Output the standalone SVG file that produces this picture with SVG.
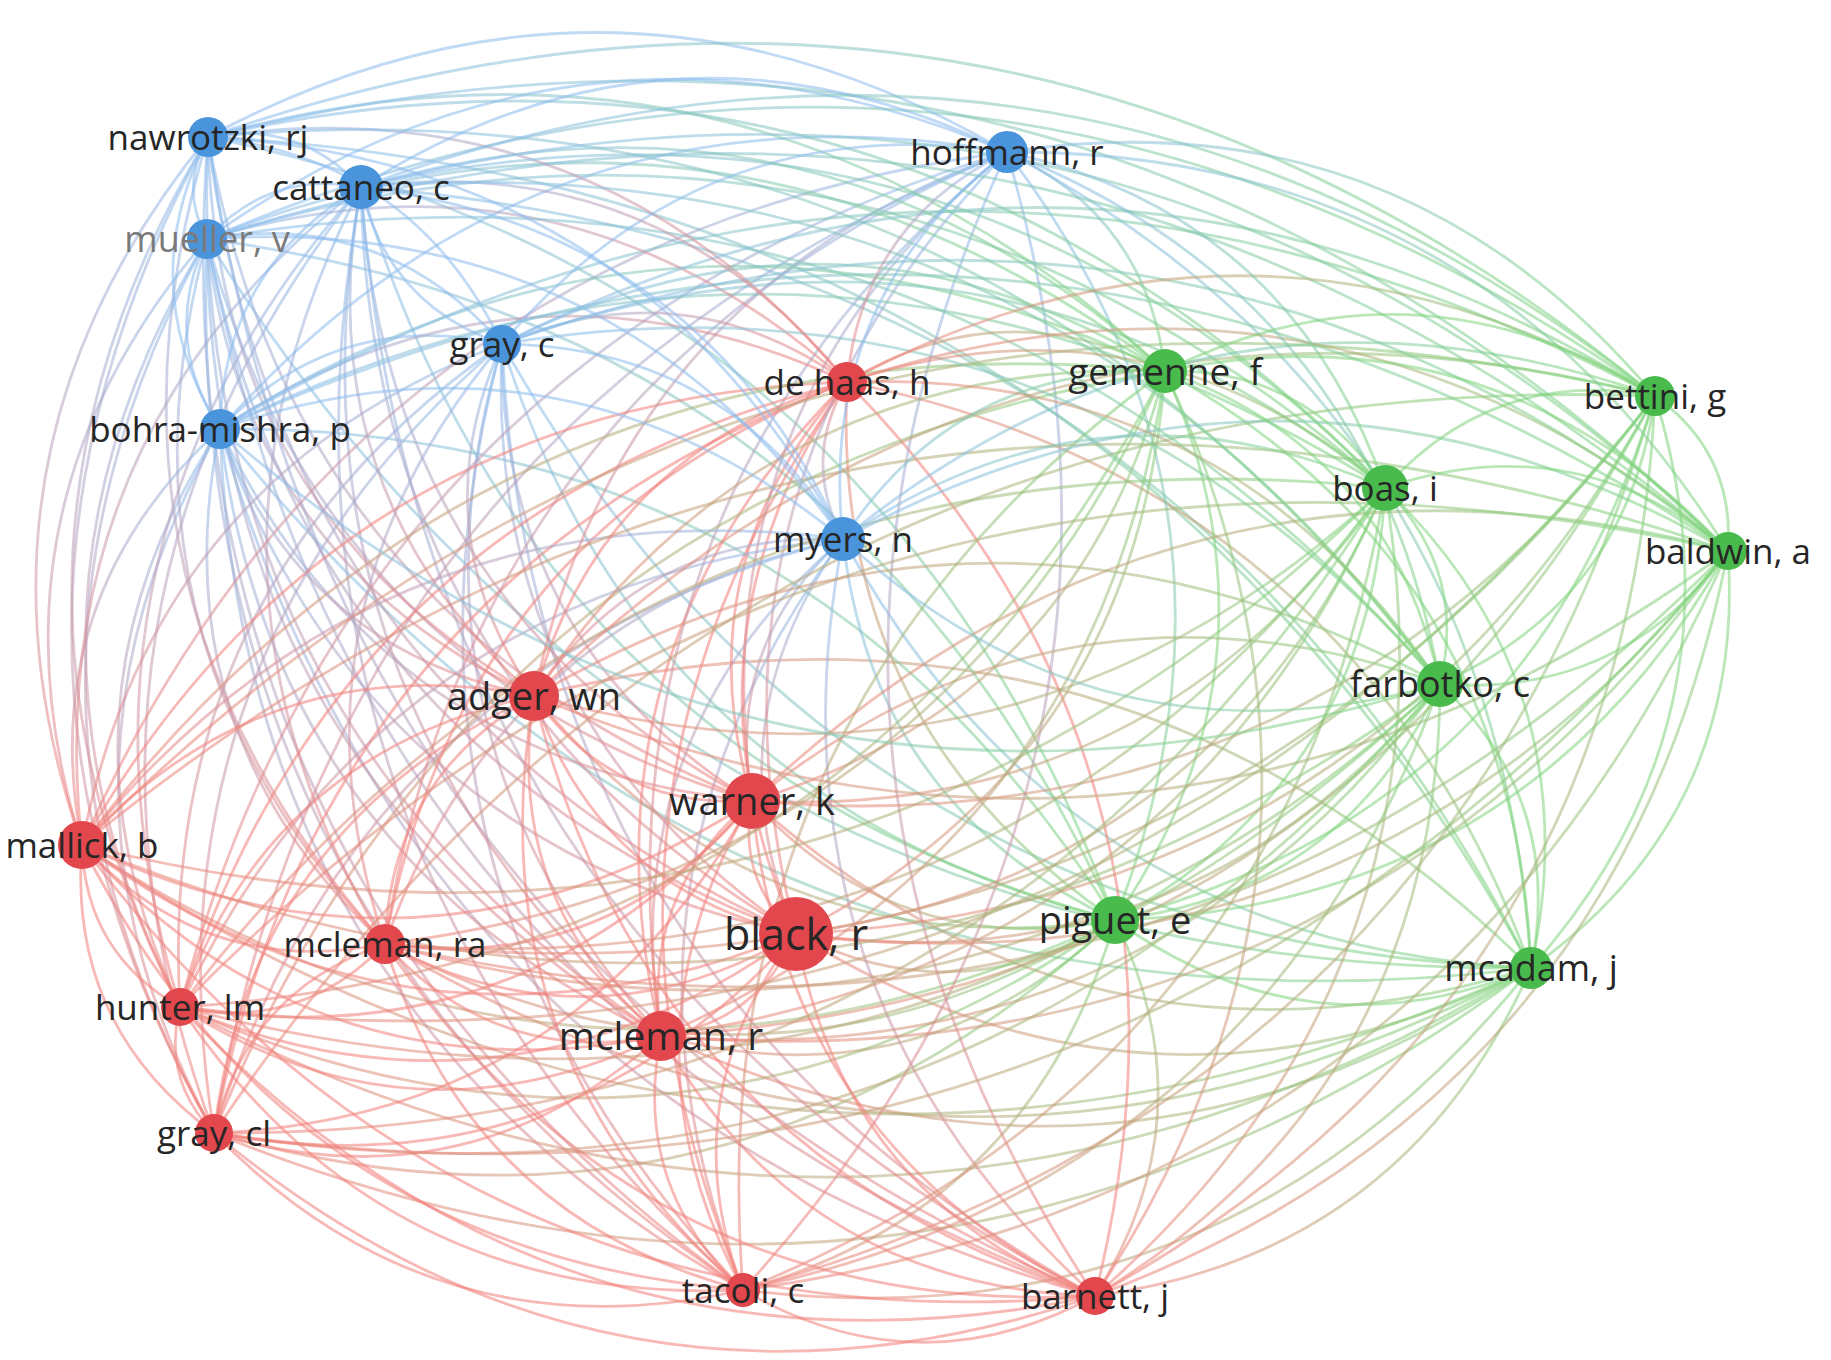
<svg xmlns="http://www.w3.org/2000/svg" width="1831" height="1360" viewBox="0 0 1831 1360">
<defs>
<linearGradient id="grb" x1="0" y1="0" x2="1" y2="0"><stop offset="0" stop-color="#f2807a"/><stop offset="1" stop-color="#8cbcee"/></linearGradient>
<linearGradient id="gbr" x1="0" y1="0" x2="1" y2="0"><stop offset="0" stop-color="#8cbcee"/><stop offset="1" stop-color="#f2807a"/></linearGradient>
<linearGradient id="grg" x1="0" y1="0" x2="1" y2="0"><stop offset="0" stop-color="#f2807a"/><stop offset="1" stop-color="#7fd47c"/></linearGradient>
<linearGradient id="ggr" x1="0" y1="0" x2="1" y2="0"><stop offset="0" stop-color="#7fd47c"/><stop offset="1" stop-color="#f2807a"/></linearGradient>
<linearGradient id="gbg" x1="0" y1="0" x2="1" y2="0"><stop offset="0" stop-color="#8cbcee"/><stop offset="1" stop-color="#7fd47c"/></linearGradient>
<linearGradient id="ggb" x1="0" y1="0" x2="1" y2="0"><stop offset="0" stop-color="#7fd47c"/><stop offset="1" stop-color="#8cbcee"/></linearGradient>
</defs>
<style>
.e path{fill:none;stroke-width:2.8;stroke-opacity:.55;vector-effect:non-scaling-stroke}
.rr{stroke:#f2807a}.bb{stroke:#8cbcee}.gg{stroke:#7fd47c}
.rb{stroke:url(#grb)}.br{stroke:url(#gbr)}.rg{stroke:url(#grg)}.gr{stroke:url(#ggr)}.bg{stroke:url(#gbg)}.gb{stroke:url(#ggb)}
.r circle{fill:#e2474d}.b circle{fill:#4a94dc}.g circle{fill:#48bb4c}
text{font-family:"Open Sans","DejaVu Sans",sans-serif;font-size:35px;fill:#262626;text-anchor:middle}
</style>
<rect width="1831" height="1360" fill="#ffffff"/>
<g id="connectors" class="e">
<path d="M0 0Q.5-.28 1 0" class="gg" transform="matrix(-416 -48 48 -416 1531 968)"/>
<path d="M0 0Q.5-.28 1 0" class="gr" transform="matrix(-436 328 -328 -436 1531 968)"/>
<path d="M0 0Q.5-.28 1 0" class="gr" transform="matrix(-788 322 -322 -788 1531 968)"/>
<path d="M0 0Q.5-.28 1 0" class="gr" transform="matrix(-735 -34 34 -735 1531 968)"/>
<path d="M0 0Q.5-.28 1 0" class="gr" transform="matrix(-870 68 -68 -870 1531 968)"/>
<path d="M0 0Q.5-.28 1 0" class="gr" transform="matrix(-779 -167 167 -779 1531 968)"/>
<path d="M0 0Q.5-.28 1 0" class="gr" transform="matrix(-1317 165 -165 -1317 1531 968)"/>
<path d="M0 0Q.5-.28 1 0" class="gr" transform="matrix(-1146 -24 24 -1146 1531 968)"/>
<path d="M0 0Q.5-.28 1 0" class="gr" transform="matrix(-1351 39 -39 -1351 1531 968)"/>
<path d="M0 0Q.5-.28 1 0" class="gr" transform="matrix(-1449 -123 123 -1449 1531 968)"/>
<path d="M0 0Q.5-.28 1 0" class="rg" transform="matrix(997 272 -272 997 534 696)"/>
<path d="M0 0Q.5-.28 1 0" class="gb" transform="matrix(-1311 -539 539 -1311 1531 968)"/>
<path d="M0 0Q.5-.28 1 0" class="gb" transform="matrix(-1324 -729 729 -1324 1531 968)"/>
<path d="M0 0Q.5-.28 1 0" class="bg" transform="matrix(1323 831 -831 1323 208 137)"/>
<path d="M0 0Q.5-.28 1 0" class="gb" transform="matrix(-1029 -624 624 -1029 1531 968)"/>
<path d="M0 0Q.5-.28 1 0" class="bg" transform="matrix(1170 781 -781 1170 361 187)"/>
<path d="M0 0Q.5-.28 1 0" class="gb" transform="matrix(-688 -429 429 -688 1531 968)"/>
<path d="M0 0Q.5-.28 1 0" class="rg" transform="matrix(684 586 -586 684 847 382)"/>
<path d="M0 0Q.5-.28 1 0" class="bg" transform="matrix(524 816 -816 524 1007 152)"/>
<path d="M0 0Q.5-.28 1 0" class="gg" transform="matrix(366 597 -597 366 1165 371)"/>
<path d="M0 0Q.5-.28 1 0" class="gg" transform="matrix(146 480 -480 146 1385 488)"/>
<path d="M0 0Q.5-.28 1 0" class="gg" transform="matrix(-124 572 -572 -124 1655 396)"/>
<path d="M0 0Q.5-.28 1 0" class="gg" transform="matrix(-197 417 -417 -197 1728 551)"/>
<path d="M0 0Q.5-.28 1 0" class="gg" transform="matrix(91 284 -284 91 1440 684)"/>
<path d="M0 0Q.5-.28 1 0" class="gr" transform="matrix(-20 376 -376 -20 1115 920)"/>
<path d="M0 0Q.5-.28 1 0" class="gr" transform="matrix(-372 370 -370 -372 1115 920)"/>
<path d="M0 0Q.5-.28 1 0" class="gr" transform="matrix(-319 14 -14 -319 1115 920)"/>
<path d="M0 0Q.5-.28 1 0" class="gr" transform="matrix(-454 116 -116 -454 1115 920)"/>
<path d="M0 0Q.5-.28 1 0" class="gr" transform="matrix(-363 -119 119 -363 1115 920)"/>
<path d="M0 0Q.5-.28 1 0" class="gr" transform="matrix(-901 213 -213 -901 1115 920)"/>
<path d="M0 0Q.5-.28 1 0" class="gr" transform="matrix(-730 24 -24 -730 1115 920)"/>
<path d="M0 0Q.5-.28 1 0" class="gr" transform="matrix(-935 87 -87 -935 1115 920)"/>
<path d="M0 0Q.5-.28 1 0" class="gr" transform="matrix(-1033 -75 75 -1033 1115 920)"/>
<path d="M0 0Q.5-.28 1 0" class="gr" transform="matrix(-581 -224 224 -581 1115 920)"/>
<path d="M0 0Q.5-.28 1 0" class="bg" transform="matrix(895 491 -491 895 220 429)"/>
<path d="M0 0Q.5-.28 1 0" class="bg" transform="matrix(908 681 -681 908 207 239)"/>
<path d="M0 0Q.5-.28 1 0" class="bg" transform="matrix(907 783 -783 907 208 137)"/>
<path d="M0 0Q.5-.28 1 0" class="gb" transform="matrix(-613 -576 576 -613 1115 920)"/>
<path d="M0 0Q.5-.28 1 0" class="gb" transform="matrix(-754 -733 733 -754 1115 920)"/>
<path d="M0 0Q.5-.28 1 0" class="gb" transform="matrix(-272 -381 381 -272 1115 920)"/>
<path d="M0 0Q.5-.28 1 0" class="gr" transform="matrix(-268 -538 538 -268 1115 920)"/>
<path d="M0 0Q.5-.28 1 0" class="bg" transform="matrix(108 768 -768 108 1007 152)"/>
<path d="M0 0Q.5-.28 1 0" class="gg" transform="matrix(-50 549 -549 -50 1165 371)"/>
<path d="M0 0Q.5-.28 1 0" class="gg" transform="matrix(-270 432 -432 -270 1385 488)"/>
<path d="M0 0Q.5-.28 1 0" class="gg" transform="matrix(-540 524 -524 -540 1655 396)"/>
<path d="M0 0Q.5-.28 1 0" class="gg" transform="matrix(-613 369 -369 -613 1728 551)"/>
<path d="M0 0Q.5-.28 1 0" class="gg" transform="matrix(-325 236 -236 -325 1440 684)"/>
<path d="M0 0Q.5-.28 1 0" class="rr" transform="matrix(-352 -6 6 -352 1095 1296)"/>
<path d="M0 0Q.5-.28 1 0" class="rr" transform="matrix(-299 -362 362 -299 1095 1296)"/>
<path d="M0 0Q.5-.28 1 0" class="rr" transform="matrix(-434 -260 260 -434 1095 1296)"/>
<path d="M0 0Q.5-.28 1 0" class="rr" transform="matrix(-343 -495 495 -343 1095 1296)"/>
<path d="M0 0Q.5-.28 1 0" class="rr" transform="matrix(-881 -163 163 -881 1095 1296)"/>
<path d="M0 0Q.5-.28 1 0" class="rr" transform="matrix(-710 -352 352 -710 1095 1296)"/>
<path d="M0 0Q.5-.28 1 0" class="rr" transform="matrix(-915 -289 289 -915 1095 1296)"/>
<path d="M0 0Q.5-.28 1 0" class="rr" transform="matrix(-1013 -451 451 -1013 1095 1296)"/>
<path d="M0 0Q.5-.28 1 0" class="rr" transform="matrix(-561 -600 600 -561 1095 1296)"/>
<path d="M0 0Q.5-.28 1 0" class="rb" transform="matrix(-875 -867 867 -875 1095 1296)"/>
<path d="M0 0Q.5-.28 1 0" class="rb" transform="matrix(-888 -1057 1057 -888 1095 1296)"/>
<path d="M0 0Q.5-.28 1 0" class="rb" transform="matrix(-887 -1159 1159 -887 1095 1296)"/>
<path d="M0 0Q.5-.28 1 0" class="rb" transform="matrix(-593 -952 952 -593 1095 1296)"/>
<path d="M0 0Q.5-.28 1 0" class="rb" transform="matrix(-734 -1109 1109 -734 1095 1296)"/>
<path d="M0 0Q.5-.28 1 0" class="rb" transform="matrix(-252 -757 757 -252 1095 1296)"/>
<path d="M0 0Q.5-.28 1 0" class="rr" transform="matrix(248 914 -914 248 847 382)"/>
<path d="M0 0Q.5-.28 1 0" class="rb" transform="matrix(-88 -1144 1144 -88 1095 1296)"/>
<path d="M0 0Q.5-.28 1 0" class="gr" transform="matrix(-70 925 -925 -70 1165 371)"/>
<path d="M0 0Q.5-.28 1 0" class="gr" transform="matrix(-290 808 -808 -290 1385 488)"/>
<path d="M0 0Q.5-.28 1 0" class="gr" transform="matrix(-560 900 -900 -560 1655 396)"/>
<path d="M0 0Q.5-.28 1 0" class="gr" transform="matrix(-633 745 -745 -633 1728 551)"/>
<path d="M0 0Q.5-.28 1 0" class="gr" transform="matrix(-345 612 -612 -345 1440 684)"/>
<path d="M0 0Q.5-.28 1 0" class="rr" transform="matrix(53 -356 356 53 743 1290)"/>
<path d="M0 0Q.5-.28 1 0" class="rr" transform="matrix(-82 -254 254 -82 743 1290)"/>
<path d="M0 0Q.5-.28 1 0" class="rr" transform="matrix(9 -489 489 9 743 1290)"/>
<path d="M0 0Q.5-.28 1 0" class="rr" transform="matrix(-529 -157 157 -529 743 1290)"/>
<path d="M0 0Q.5-.28 1 0" class="rr" transform="matrix(-358 -346 346 -358 743 1290)"/>
<path d="M0 0Q.5-.28 1 0" class="rr" transform="matrix(-563 -283 283 -563 743 1290)"/>
<path d="M0 0Q.5-.28 1 0" class="rr" transform="matrix(-661 -445 445 -661 743 1290)"/>
<path d="M0 0Q.5-.28 1 0" class="rr" transform="matrix(-209 -594 594 -209 743 1290)"/>
<path d="M0 0Q.5-.28 1 0" class="rb" transform="matrix(-523 -861 861 -523 743 1290)"/>
<path d="M0 0Q.5-.28 1 0" class="rb" transform="matrix(-536 -1051 1051 -536 743 1290)"/>
<path d="M0 0Q.5-.28 1 0" class="rb" transform="matrix(-535 -1153 1153 -535 743 1290)"/>
<path d="M0 0Q.5-.28 1 0" class="rb" transform="matrix(-241 -946 946 -241 743 1290)"/>
<path d="M0 0Q.5-.28 1 0" class="rb" transform="matrix(-382 -1103 1103 -382 743 1290)"/>
<path d="M0 0Q.5-.28 1 0" class="rb" transform="matrix(100 -751 751 100 743 1290)"/>
<path d="M0 0Q.5-.28 1 0" class="rr" transform="matrix(104 -908 908 104 743 1290)"/>
<path d="M0 0Q.5-.28 1 0" class="br" transform="matrix(-264 1138 -1138 -264 1007 152)"/>
<path d="M0 0Q.5-.28 1 0" class="rg" transform="matrix(422 -919 919 422 743 1290)"/>
<path d="M0 0Q.5-.28 1 0" class="gr" transform="matrix(-642 802 -802 -642 1385 488)"/>
<path d="M0 0Q.5-.28 1 0" class="gr" transform="matrix(-912 894 -894 -912 1655 396)"/>
<path d="M0 0Q.5-.28 1 0" class="gr" transform="matrix(-985 739 -739 -985 1728 551)"/>
<path d="M0 0Q.5-.28 1 0" class="gr" transform="matrix(-697 606 -606 -697 1440 684)"/>
<path d="M0 0Q.5-.28 1 0" class="rr" transform="matrix(-135 102 -102 -135 796 934)"/>
<path d="M0 0Q.5-.28 1 0" class="rr" transform="matrix(-44 -133 133 -44 796 934)"/>
<path d="M0 0Q.5-.28 1 0" class="rr" transform="matrix(-582 199 -199 -582 796 934)"/>
<path d="M0 0Q.5-.28 1 0" class="rr" transform="matrix(-411 10 -10 -411 796 934)"/>
<path d="M0 0Q.5-.28 1 0" class="rr" transform="matrix(-616 73 -73 -616 796 934)"/>
<path d="M0 0Q.5-.28 1 0" class="rr" transform="matrix(-714 -89 89 -714 796 934)"/>
<path d="M0 0Q.5-.28 1 0" class="rr" transform="matrix(-262 -238 238 -262 796 934)"/>
<path d="M0 0Q.5-.28 1 0" class="rb" transform="matrix(-576 -505 505 -576 796 934)"/>
<path d="M0 0Q.5-.28 1 0" class="rb" transform="matrix(-589 -695 695 -589 796 934)"/>
<path d="M0 0Q.5-.28 1 0" class="rb" transform="matrix(-588 -797 797 -588 796 934)"/>
<path d="M0 0Q.5-.28 1 0" class="rb" transform="matrix(-294 -590 590 -294 796 934)"/>
<path d="M0 0Q.5-.28 1 0" class="rb" transform="matrix(-435 -747 747 -435 796 934)"/>
<path d="M0 0Q.5-.28 1 0" class="rb" transform="matrix(47 -395 395 47 796 934)"/>
<path d="M0 0Q.5-.28 1 0" class="rr" transform="matrix(51 -552 552 51 796 934)"/>
<path d="M0 0Q.5-.28 1 0" class="rb" transform="matrix(211 -782 782 211 796 934)"/>
<path d="M0 0Q.5-.28 1 0" class="gr" transform="matrix(-369 563 -563 -369 1165 371)"/>
<path d="M0 0Q.5-.28 1 0" class="gr" transform="matrix(-589 446 -446 -589 1385 488)"/>
<path d="M0 0Q.5-.28 1 0" class="gr" transform="matrix(-859 538 -538 -859 1655 396)"/>
<path d="M0 0Q.5-.28 1 0" class="gr" transform="matrix(-932 383 -383 -932 1728 551)"/>
<path d="M0 0Q.5-.28 1 0" class="gr" transform="matrix(-644 250 -250 -644 1440 684)"/>
<path d="M0 0Q.5-.28 1 0" class="rr" transform="matrix(91 -235 235 91 661 1036)"/>
<path d="M0 0Q.5-.28 1 0" class="rr" transform="matrix(-447 97 -97 -447 661 1036)"/>
<path d="M0 0Q.5-.28 1 0" class="rr" transform="matrix(-276 -92 92 -276 661 1036)"/>
<path d="M0 0Q.5-.28 1 0" class="rr" transform="matrix(-481 -29 29 -481 661 1036)"/>
<path d="M0 0Q.5-.28 1 0" class="rr" transform="matrix(-579 -191 191 -579 661 1036)"/>
<path d="M0 0Q.5-.28 1 0" class="rr" transform="matrix(-127 -340 340 -127 661 1036)"/>
<path d="M0 0Q.5-.28 1 0" class="rb" transform="matrix(-441 -607 607 -441 661 1036)"/>
<path d="M0 0Q.5-.28 1 0" class="rb" transform="matrix(-454 -797 797 -454 661 1036)"/>
<path d="M0 0Q.5-.28 1 0" class="rb" transform="matrix(-453 -899 899 -453 661 1036)"/>
<path d="M0 0Q.5-.28 1 0" class="rb" transform="matrix(-159 -692 692 -159 661 1036)"/>
<path d="M0 0Q.5-.28 1 0" class="rb" transform="matrix(-300 -849 849 -300 661 1036)"/>
<path d="M0 0Q.5-.28 1 0" class="rb" transform="matrix(182 -497 497 182 661 1036)"/>
<path d="M0 0Q.5-.28 1 0" class="rr" transform="matrix(186 -654 654 186 661 1036)"/>
<path d="M0 0Q.5-.28 1 0" class="rb" transform="matrix(346 -884 884 346 661 1036)"/>
<path d="M0 0Q.5-.28 1 0" class="gr" transform="matrix(-504 665 -665 -504 1165 371)"/>
<path d="M0 0Q.5-.28 1 0" class="gr" transform="matrix(-724 548 -548 -724 1385 488)"/>
<path d="M0 0Q.5-.28 1 0" class="gr" transform="matrix(-994 640 -640 -994 1655 396)"/>
<path d="M0 0Q.5-.28 1 0" class="gr" transform="matrix(-1067 485 -485 -1067 1728 551)"/>
<path d="M0 0Q.5-.28 1 0" class="gr" transform="matrix(-779 352 -352 -779 1440 684)"/>
<path d="M0 0Q.5-.28 1 0" class="rr" transform="matrix(-538 332 -332 -538 752 801)"/>
<path d="M0 0Q.5-.28 1 0" class="rr" transform="matrix(-367 143 -143 -367 752 801)"/>
<path d="M0 0Q.5-.28 1 0" class="rr" transform="matrix(-572 206 -206 -572 752 801)"/>
<path d="M0 0Q.5-.28 1 0" class="rr" transform="matrix(-670 44 -44 -670 752 801)"/>
<path d="M0 0Q.5-.28 1 0" class="rr" transform="matrix(-218 -105 105 -218 752 801)"/>
<path d="M0 0Q.5-.28 1 0" class="rb" transform="matrix(-532 -372 372 -532 752 801)"/>
<path d="M0 0Q.5-.28 1 0" class="rb" transform="matrix(-545 -562 562 -545 752 801)"/>
<path d="M0 0Q.5-.28 1 0" class="rb" transform="matrix(-544 -664 664 -544 752 801)"/>
<path d="M0 0Q.5-.28 1 0" class="rb" transform="matrix(-250 -457 457 -250 752 801)"/>
<path d="M0 0Q.5-.28 1 0" class="rb" transform="matrix(-391 -614 614 -391 752 801)"/>
<path d="M0 0Q.5-.28 1 0" class="rb" transform="matrix(91 -262 262 91 752 801)"/>
<path d="M0 0Q.5-.28 1 0" class="rr" transform="matrix(95 -419 419 95 752 801)"/>
<path d="M0 0Q.5-.28 1 0" class="rb" transform="matrix(255 -649 649 255 752 801)"/>
<path d="M0 0Q.5-.28 1 0" class="gr" transform="matrix(-413 430 -430 -413 1165 371)"/>
<path d="M0 0Q.5-.28 1 0" class="gr" transform="matrix(-633 313 -313 -633 1385 488)"/>
<path d="M0 0Q.5-.28 1 0" class="gr" transform="matrix(-903 405 -405 -903 1655 396)"/>
<path d="M0 0Q.5-.28 1 0" class="rg" transform="matrix(976 -250 250 976 752 801)"/>
<path d="M0 0Q.5-.28 1 0" class="rg" transform="matrix(688 -117 117 688 752 801)"/>
<path d="M0 0Q.5-.28 1 0" class="rr" transform="matrix(171 -189 189 171 214 1133)"/>
<path d="M0 0Q.5-.28 1 0" class="rr" transform="matrix(-34 -126 126 -34 214 1133)"/>
<path d="M0 0Q.5-.28 1 0" class="rr" transform="matrix(-132 -288 288 -132 214 1133)"/>
<path d="M0 0Q.5-.28 1 0" class="rr" transform="matrix(320 -437 437 320 214 1133)"/>
<path d="M0 0Q.5-.28 1 0" class="rb" transform="matrix(6 -704 704 6 214 1133)"/>
<path d="M0 0Q.5-.28 1 0" class="rb" transform="matrix(-7 -894 894 -7 214 1133)"/>
<path d="M0 0Q.5-.28 1 0" class="rb" transform="matrix(-6 -996 996 -6 214 1133)"/>
<path d="M0 0Q.5-.28 1 0" class="rb" transform="matrix(288 -789 789 288 214 1133)"/>
<path d="M0 0Q.5-.28 1 0" class="rb" transform="matrix(147 -946 946 147 214 1133)"/>
<path d="M0 0Q.5-.28 1 0" class="rb" transform="matrix(629 -594 594 629 214 1133)"/>
<path d="M0 0Q.5-.28 1 0" class="rr" transform="matrix(633 -751 751 633 214 1133)"/>
<path d="M0 0Q.5-.28 1 0" class="rb" transform="matrix(793 -981 981 793 214 1133)"/>
<path d="M0 0Q.5-.28 1 0" class="rg" transform="matrix(951 -762 762 951 214 1133)"/>
<path d="M0 0Q.5-.28 1 0" class="gr" transform="matrix(-1171 645 -645 -1171 1385 488)"/>
<path d="M0 0Q.5-.28 1 0" class="rg" transform="matrix(1441 -737 737 1441 214 1133)"/>
<path d="M0 0Q.5-.28 1 0" class="gr" transform="matrix(-1514 582 -582 -1514 1728 551)"/>
<path d="M0 0Q.5-.28 1 0" class="gr" transform="matrix(-1226 449 -449 -1226 1440 684)"/>
<path d="M0 0Q.5-.28 1 0" class="rr" transform="matrix(-205 63 -63 -205 385 944)"/>
<path d="M0 0Q.5-.28 1 0" class="rr" transform="matrix(-303 -99 99 -303 385 944)"/>
<path d="M0 0Q.5-.28 1 0" class="rr" transform="matrix(149 -248 248 149 385 944)"/>
<path d="M0 0Q.5-.28 1 0" class="rb" transform="matrix(-165 -515 515 -165 385 944)"/>
<path d="M0 0Q.5-.28 1 0" class="rb" transform="matrix(-178 -705 705 -178 385 944)"/>
<path d="M0 0Q.5-.28 1 0" class="rb" transform="matrix(-177 -807 807 -177 385 944)"/>
<path d="M0 0Q.5-.28 1 0" class="rb" transform="matrix(117 -600 600 117 385 944)"/>
<path d="M0 0Q.5-.28 1 0" class="rb" transform="matrix(-24 -757 757 -24 385 944)"/>
<path d="M0 0Q.5-.28 1 0" class="rb" transform="matrix(458 -405 405 458 385 944)"/>
<path d="M0 0Q.5-.28 1 0" class="rr" transform="matrix(462 -562 562 462 385 944)"/>
<path d="M0 0Q.5-.28 1 0" class="rb" transform="matrix(622 -792 792 622 385 944)"/>
<path d="M0 0Q.5-.28 1 0" class="gr" transform="matrix(-780 573 -573 -780 1165 371)"/>
<path d="M0 0Q.5-.28 1 0" class="gr" transform="matrix(-1000 456 -456 -1000 1385 488)"/>
<path d="M0 0Q.5-.28 1 0" class="gr" transform="matrix(-1270 548 -548 -1270 1655 396)"/>
<path d="M0 0Q.5-.28 1 0" class="gr" transform="matrix(-1343 393 -393 -1343 1728 551)"/>
<path d="M0 0Q.5-.28 1 0" class="gr" transform="matrix(-1055 260 -260 -1055 1440 684)"/>
<path d="M0 0Q.5-.28 1 0" class="rr" transform="matrix(-98 -162 162 -98 180 1007)"/>
<path d="M0 0Q.5-.28 1 0" class="rr" transform="matrix(354 -311 311 354 180 1007)"/>
<path d="M0 0Q.5-.28 1 0" class="rb" transform="matrix(40 -578 578 40 180 1007)"/>
<path d="M0 0Q.5-.28 1 0" class="rb" transform="matrix(27 -768 768 27 180 1007)"/>
<path d="M0 0Q.5-.28 1 0" class="rb" transform="matrix(28 -870 870 28 180 1007)"/>
<path d="M0 0Q.5-.28 1 0" class="rb" transform="matrix(322 -663 663 322 180 1007)"/>
<path d="M0 0Q.5-.28 1 0" class="rb" transform="matrix(181 -820 820 181 180 1007)"/>
<path d="M0 0Q.5-.28 1 0" class="rb" transform="matrix(663 -468 468 663 180 1007)"/>
<path d="M0 0Q.5-.28 1 0" class="rr" transform="matrix(667 -625 625 667 180 1007)"/>
<path d="M0 0Q.5-.28 1 0" class="rb" transform="matrix(827 -855 855 827 180 1007)"/>
<path d="M0 0Q.5-.28 1 0" class="gr" transform="matrix(-985 636 -636 -985 1165 371)"/>
<path d="M0 0Q.5-.28 1 0" class="rg" transform="matrix(1205 -519 519 1205 180 1007)"/>
<path d="M0 0Q.5-.28 1 0" class="gr" transform="matrix(-1475 611 -611 -1475 1655 396)"/>
<path d="M0 0Q.5-.28 1 0" class="rg" transform="matrix(1548 -456 456 1548 180 1007)"/>
<path d="M0 0Q.5-.28 1 0" class="gr" transform="matrix(-1260 323 -323 -1260 1440 684)"/>
<path d="M0 0Q.5-.28 1 0" class="rr" transform="matrix(452 -149 149 452 82 845)"/>
<path d="M0 0Q.5-.28 1 0" class="rb" transform="matrix(138 -416 416 138 82 845)"/>
<path d="M0 0Q.5-.28 1 0" class="rb" transform="matrix(125 -606 606 125 82 845)"/>
<path d="M0 0Q.5-.28 1 0" class="rb" transform="matrix(126 -708 708 126 82 845)"/>
<path d="M0 0Q.5-.28 1 0" class="rb" transform="matrix(420 -501 501 420 82 845)"/>
<path d="M0 0Q.5-.28 1 0" class="rb" transform="matrix(279 -658 658 279 82 845)"/>
<path d="M0 0Q.5-.28 1 0" class="rb" transform="matrix(761 -306 306 761 82 845)"/>
<path d="M0 0Q.5-.28 1 0" class="rr" transform="matrix(765 -463 463 765 82 845)"/>
<path d="M0 0Q.5-.28 1 0" class="rb" transform="matrix(925 -693 693 925 82 845)"/>
<path d="M0 0Q.5-.28 1 0" class="rg" transform="matrix(1083 -474 474 1083 82 845)"/>
<path d="M0 0Q.5-.28 1 0" class="gr" transform="matrix(-1303 357 -357 -1303 1385 488)"/>
<path d="M0 0Q.5-.28 1 0" class="rg" transform="matrix(1573 -449 449 1573 82 845)"/>
<path d="M0 0Q.5-.28 1 0" class="rg" transform="matrix(1646 -294 294 1646 82 845)"/>
<path d="M0 0Q.5-.28 1 0" class="gr" transform="matrix(-1358 161 -161 -1358 1440 684)"/>
<path d="M0 0Q.5-.28 1 0" class="rb" transform="matrix(-314 -267 267 -314 534 696)"/>
<path d="M0 0Q.5-.28 1 0" class="rb" transform="matrix(-327 -457 457 -327 534 696)"/>
<path d="M0 0Q.5-.28 1 0" class="rb" transform="matrix(-326 -559 559 -326 534 696)"/>
<path d="M0 0Q.5-.28 1 0" class="rb" transform="matrix(-32 -352 352 -32 534 696)"/>
<path d="M0 0Q.5-.28 1 0" class="rb" transform="matrix(-173 -509 509 -173 534 696)"/>
<path d="M0 0Q.5-.28 1 0" class="rb" transform="matrix(309 -157 157 309 534 696)"/>
<path d="M0 0Q.5-.28 1 0" class="rr" transform="matrix(313 -314 314 313 534 696)"/>
<path d="M0 0Q.5-.28 1 0" class="rb" transform="matrix(473 -544 544 473 534 696)"/>
<path d="M0 0Q.5-.28 1 0" class="rg" transform="matrix(631 -325 325 631 534 696)"/>
<path d="M0 0Q.5-.28 1 0" class="gr" transform="matrix(-851 208 -208 -851 1385 488)"/>
<path d="M0 0Q.5-.28 1 0" class="rg" transform="matrix(1121 -300 300 1121 534 696)"/>
<path d="M0 0Q.5-.28 1 0" class="gr" transform="matrix(-1194 145 -145 -1194 1728 551)"/>
<path d="M0 0Q.5-.28 1 0" class="rg" transform="matrix(906 -12 12 906 534 696)"/>
<path d="M0 0Q.5-.28 1 0" class="bb" transform="matrix(-13 -190 190 -13 220 429)"/>
<path d="M0 0Q.5-.28 1 0" class="bb" transform="matrix(-12 -292 292 -12 220 429)"/>
<path d="M0 0Q.5-.28 1 0" class="bb" transform="matrix(282 -85 85 282 220 429)"/>
<path d="M0 0Q.5-.28 1 0" class="bb" transform="matrix(141 -242 242 141 220 429)"/>
<path d="M0 0Q.5-.28 1 0" class="bb" transform="matrix(623 110 -110 623 220 429)"/>
<path d="M0 0Q.5-.28 1 0" class="br" transform="matrix(627 -47 47 627 220 429)"/>
<path d="M0 0Q.5-.28 1 0" class="bb" transform="matrix(787 -277 277 787 220 429)"/>
<path d="M0 0Q.5-.28 1 0" class="bg" transform="matrix(945 -58 58 945 220 429)"/>
<path d="M0 0Q.5-.28 1 0" class="bg" transform="matrix(1165 59 -59 1165 220 429)"/>
<path d="M0 0Q.5-.28 1 0" class="bg" transform="matrix(1435 -33 33 1435 220 429)"/>
<path d="M0 0Q.5-.28 1 0" class="bg" transform="matrix(1508 122 -122 1508 220 429)"/>
<path d="M0 0Q.5-.28 1 0" class="gb" transform="matrix(-1220 -255 255 -1220 1440 684)"/>
<path d="M0 0Q.5-.28 1 0" class="bb" transform="matrix(1 -102 102 1 207 239)"/>
<path d="M0 0Q.5-.28 1 0" class="bb" transform="matrix(295 105 -105 295 207 239)"/>
<path d="M0 0Q.5-.28 1 0" class="bb" transform="matrix(154 -52 52 154 207 239)"/>
<path d="M0 0Q.5-.28 1 0" class="bb" transform="matrix(636 300 -300 636 207 239)"/>
<path d="M0 0Q.5-.28 1 0" class="br" transform="matrix(640 143 -143 640 207 239)"/>
<path d="M0 0Q.5-.28 1 0" class="bb" transform="matrix(800 -87 87 800 207 239)"/>
<path d="M0 0Q.5-.28 1 0" class="bg" transform="matrix(958 132 -132 958 207 239)"/>
<path d="M0 0Q.5-.28 1 0" class="bg" transform="matrix(1178 249 -249 1178 207 239)"/>
<path d="M0 0Q.5-.28 1 0" class="bg" transform="matrix(1448 157 -157 1448 207 239)"/>
<path d="M0 0Q.5-.28 1 0" class="bg" transform="matrix(1521 312 -312 1521 207 239)"/>
<path d="M0 0Q.5-.28 1 0" class="bg" transform="matrix(1233 445 -445 1233 207 239)"/>
<path d="M0 0Q.5-.28 1 0" class="bb" transform="matrix(294 207 -207 294 208 137)"/>
<path d="M0 0Q.5-.28 1 0" class="bb" transform="matrix(153 50 -50 153 208 137)"/>
<path d="M0 0Q.5-.28 1 0" class="bb" transform="matrix(635 402 -402 635 208 137)"/>
<path d="M0 0Q.5-.28 1 0" class="br" transform="matrix(639 245 -245 639 208 137)"/>
<path d="M0 0Q.5-.28 1 0" class="bb" transform="matrix(799 15 -15 799 208 137)"/>
<path d="M0 0Q.5-.28 1 0" class="bg" transform="matrix(957 234 -234 957 208 137)"/>
<path d="M0 0Q.5-.28 1 0" class="bg" transform="matrix(1177 351 -351 1177 208 137)"/>
<path d="M0 0Q.5-.28 1 0" class="bg" transform="matrix(1447 259 -259 1447 208 137)"/>
<path d="M0 0Q.5-.28 1 0" class="bg" transform="matrix(1520 414 -414 1520 208 137)"/>
<path d="M0 0Q.5-.28 1 0" class="bg" transform="matrix(1232 547 -547 1232 208 137)"/>
<path d="M0 0Q.5-.28 1 0" class="bb" transform="matrix(-141 -157 157 -141 502 344)"/>
<path d="M0 0Q.5-.28 1 0" class="bb" transform="matrix(341 195 -195 341 502 344)"/>
<path d="M0 0Q.5-.28 1 0" class="br" transform="matrix(345 38 -38 345 502 344)"/>
<path d="M0 0Q.5-.28 1 0" class="bb" transform="matrix(505 -192 192 505 502 344)"/>
<path d="M0 0Q.5-.28 1 0" class="bg" transform="matrix(663 27 -27 663 502 344)"/>
<path d="M0 0Q.5-.28 1 0" class="bg" transform="matrix(883 144 -144 883 502 344)"/>
<path d="M0 0Q.5-.28 1 0" class="bg" transform="matrix(1153 52 -52 1153 502 344)"/>
<path d="M0 0Q.5-.28 1 0" class="bg" transform="matrix(1226 207 -207 1226 502 344)"/>
<path d="M0 0Q.5-.28 1 0" class="bg" transform="matrix(938 340 -340 938 502 344)"/>
<path d="M0 0Q.5-.28 1 0" class="bb" transform="matrix(482 352 -352 482 361 187)"/>
<path d="M0 0Q.5-.28 1 0" class="br" transform="matrix(486 195 -195 486 361 187)"/>
<path d="M0 0Q.5-.28 1 0" class="bb" transform="matrix(646 -35 35 646 361 187)"/>
<path d="M0 0Q.5-.28 1 0" class="bg" transform="matrix(804 184 -184 804 361 187)"/>
<path d="M0 0Q.5-.28 1 0" class="bg" transform="matrix(1024 301 -301 1024 361 187)"/>
<path d="M0 0Q.5-.28 1 0" class="bg" transform="matrix(1294 209 -209 1294 361 187)"/>
<path d="M0 0Q.5-.28 1 0" class="bg" transform="matrix(1367 364 -364 1367 361 187)"/>
<path d="M0 0Q.5-.28 1 0" class="bg" transform="matrix(1079 497 -497 1079 361 187)"/>
<path d="M0 0Q.5-.28 1 0" class="br" transform="matrix(4 -157 157 4 843 539)"/>
<path d="M0 0Q.5-.28 1 0" class="bb" transform="matrix(164 -387 387 164 843 539)"/>
<path d="M0 0Q.5-.28 1 0" class="bg" transform="matrix(322 -168 168 322 843 539)"/>
<path d="M0 0Q.5-.28 1 0" class="bg" transform="matrix(542 -51 51 542 843 539)"/>
<path d="M0 0Q.5-.28 1 0" class="bg" transform="matrix(812 -143 143 812 843 539)"/>
<path d="M0 0Q.5-.28 1 0" class="bg" transform="matrix(885 12 -12 885 843 539)"/>
<path d="M0 0Q.5-.28 1 0" class="gb" transform="matrix(-597 -145 145 -597 1440 684)"/>
<path d="M0 0Q.5-.28 1 0" class="rb" transform="matrix(160 -230 230 160 847 382)"/>
<path d="M0 0Q.5-.28 1 0" class="rg" transform="matrix(318 -11 11 318 847 382)"/>
<path d="M0 0Q.5-.28 1 0" class="rg" transform="matrix(538 106 -106 538 847 382)"/>
<path d="M0 0Q.5-.28 1 0" class="rg" transform="matrix(808 14 -14 808 847 382)"/>
<path d="M0 0Q.5-.28 1 0" class="rg" transform="matrix(881 169 -169 881 847 382)"/>
<path d="M0 0Q.5-.28 1 0" class="rg" transform="matrix(593 302 -302 593 847 382)"/>
<path d="M0 0Q.5-.28 1 0" class="bg" transform="matrix(158 219 -219 158 1007 152)"/>
<path d="M0 0Q.5-.28 1 0" class="bg" transform="matrix(378 336 -336 378 1007 152)"/>
<path d="M0 0Q.5-.28 1 0" class="bg" transform="matrix(648 244 -244 648 1007 152)"/>
<path d="M0 0Q.5-.28 1 0" class="bg" transform="matrix(721 399 -399 721 1007 152)"/>
<path d="M0 0Q.5-.28 1 0" class="bg" transform="matrix(433 532 -532 433 1007 152)"/>
<path d="M0 0Q.5-.28 1 0" class="gg" transform="matrix(220 117 -117 220 1165 371)"/>
<path d="M0 0Q.5-.28 1 0" class="gg" transform="matrix(490 25 -25 490 1165 371)"/>
<path d="M0 0Q.5-.28 1 0" class="gg" transform="matrix(563 180 -180 563 1165 371)"/>
<path d="M0 0Q.5-.28 1 0" class="gg" transform="matrix(275 313 -313 275 1165 371)"/>
<path d="M0 0Q.5-.28 1 0" class="gg" transform="matrix(270 -92 92 270 1385 488)"/>
<path d="M0 0Q.5-.28 1 0" class="gg" transform="matrix(343 63 -63 343 1385 488)"/>
<path d="M0 0Q.5-.28 1 0" class="gg" transform="matrix(55 196 -196 55 1385 488)"/>
<path d="M0 0Q.5-.28 1 0" class="gg" transform="matrix(73 155 -155 73 1655 396)"/>
<path d="M0 0Q.5-.28 1 0" class="gg" transform="matrix(-215 288 -288 -215 1655 396)"/>
<path d="M0 0Q.5-.28 1 0" class="gg" transform="matrix(-288 133 -133 -288 1728 551)"/>
</g>
<g id="nodes">
<g id="n-nawrotzki" class="b"><circle cx="208" cy="137" r="20"/><text x="208" y="150">nawrotzki, rj</text></g>
<g id="n-cattaneo" class="b"><circle cx="361" cy="187" r="22"/><text x="361" y="200">cattaneo, c</text></g>
<g id="n-mueller" class="b"><circle cx="207" cy="239" r="20"/><text x="207" y="252" style="fill:#7a7a7a;font-size:36px">mueller, v</text></g>
<g id="n-gray-c" class="b"><circle cx="502" cy="344" r="19"/><text x="502" y="357">gray, c</text></g>
<g id="n-bohra-mishra" class="b"><circle cx="220" cy="429" r="20"/><text x="220" y="442">bohra-mishra, p</text></g>
<g id="n-hoffmann" class="b"><circle cx="1007" cy="152" r="21"/><text x="1007" y="165">hoffmann, r</text></g>
<g id="n-myers" class="b"><circle cx="843" cy="539" r="22"/><text x="843" y="552">myers, n</text></g>
<g id="n-de-haas" class="r"><circle cx="847" cy="382" r="20"/><text x="847" y="395">de haas, h</text></g>
<g id="n-adger" class="r"><circle cx="534" cy="696" r="25"/><text x="534" y="710" style="font-size:38px">adger, wn</text></g>
<g id="n-warner" class="r"><circle cx="752" cy="801" r="28"/><text x="752" y="815" style="font-size:38px">warner, k</text></g>
<g id="n-mallick" class="r"><circle cx="82" cy="845" r="24"/><text x="82" y="858">mallick, b</text></g>
<g id="n-black" class="r"><circle cx="796" cy="934" r="37"/><text x="796" y="950" style="font-size:43px">black, r</text></g>
<g id="n-mcleman-ra" class="r"><circle cx="385" cy="944" r="20"/><text x="385" y="957">mcleman, ra</text></g>
<g id="n-hunter" class="r"><circle cx="180" cy="1007" r="19"/><text x="180" y="1020">hunter, lm</text></g>
<g id="n-mcleman-r" class="r"><circle cx="661" cy="1036" r="25"/><text x="661" y="1050" style="font-size:39px">mcleman, r</text></g>
<g id="n-gray-cl" class="r"><circle cx="214" cy="1133" r="19"/><text x="214" y="1146">gray, cl</text></g>
<g id="n-tacoli" class="r"><circle cx="743" cy="1290" r="17"/><text x="743" y="1303">tacoli, c</text></g>
<g id="n-barnett" class="r"><circle cx="1095" cy="1296" r="19"/><text x="1095" y="1309">barnett, j</text></g>
<g id="n-gemenne" class="g"><circle cx="1165" cy="371" r="22"/><text x="1165" y="385" style="font-size:37px">gemenne, f</text></g>
<g id="n-bettini" class="g"><circle cx="1655" cy="396" r="20"/><text x="1655" y="409">bettini, g</text></g>
<g id="n-boas" class="g"><circle cx="1385" cy="488" r="23"/><text x="1385" y="501">boas, i</text></g>
<g id="n-baldwin" class="g"><circle cx="1728" cy="551" r="19"/><text x="1728" y="564">baldwin, a</text></g>
<g id="n-farbotko" class="g"><circle cx="1440" cy="684" r="23"/><text x="1440" y="697" style="font-size:36px">farbotko, c</text></g>
<g id="n-piguet" class="g"><circle cx="1115" cy="920" r="24"/><text x="1115" y="934" style="font-size:38px">piguet, e</text></g>
<g id="n-mcadam" class="g"><circle cx="1531" cy="968" r="21"/><text x="1531" y="981" style="font-size:36px">mcadam, j</text></g>
</g>
</svg>
